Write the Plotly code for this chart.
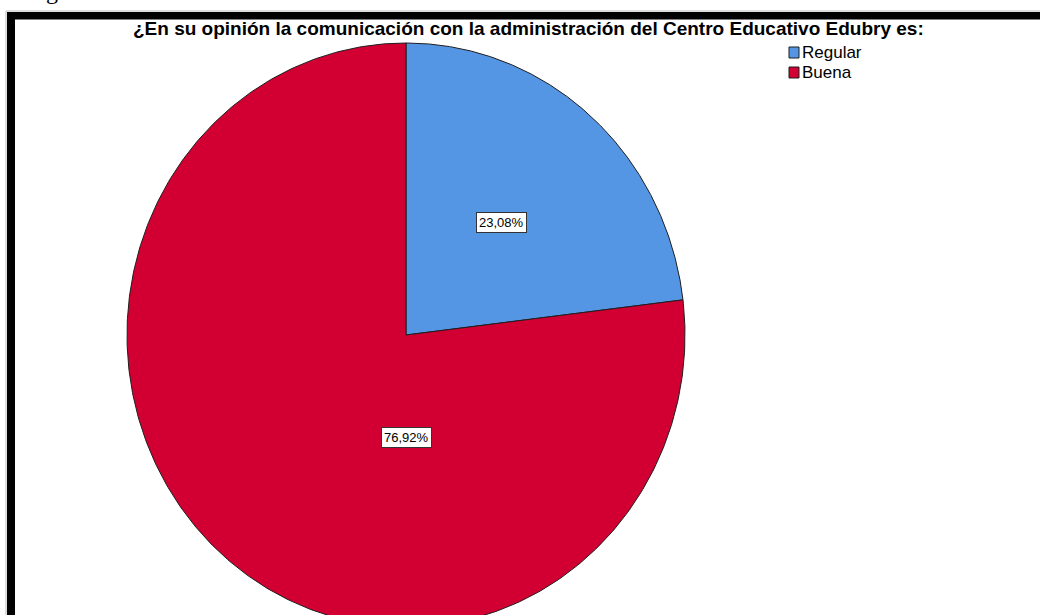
import numpy as np
import plotly.graph_objects as go

# Survey answers (percent of respondents)
categories = ["Regular", "Buena"]
percentages = [23.08, 76.92]
colors = ["#5596E4", "#D20032"]

title_text = "¿En su opinión la comunicación con la administración del Centro Educativo Edubry es:"

W, H = 1040, 615
# Pie geometry in page pixels (the chart is slightly stretched vertically)
CX, CY = 406, 335
RX, RY = 279, 292

# label placement per slice: (angle in degrees clockwise from 12 o'clock, fraction of radius)
label_pos = [(41.5, 0.515), (180.0, 0.35)]

fig = go.Figure()

total = sum(percentages)
start = 0.0
for cat, val, col in zip(categories, percentages, colors):
    sweep = 360.0 * val / total
    t = np.radians(np.linspace(start, start + sweep, 400))
    xs = np.concatenate([[CX], CX + RX * np.sin(t), [CX]])
    ys = np.concatenate([[CY], CY - RY * np.cos(t), [CY]])
    fig.add_trace(go.Scatter(
        x=xs, y=ys, mode="lines", fill="toself", fillcolor=col,
        line=dict(color="#1e1e1e", width=1), name=cat,
        showlegend=False, hoverinfo="skip",
    ))
    start += sweep

# slice percentage labels in boxed text
for val, (ang, frac) in zip(percentages, label_pos):
    a = np.radians(ang)
    fig.add_annotation(
        x=CX + frac * RX * np.sin(a), y=CY - frac * RY * np.cos(a),
        text=f"{val:.2f}%".replace(".", ","), showarrow=False,
        font=dict(family="Liberation Sans, Arial", size=13, color="#000"),
        bgcolor="white", bordercolor="#333", borderwidth=1, borderpad=2,
    )

# legend swatches and names
leg_x, leg_y, leg_step, sw_w, sw_h = 789, 47, 20, 10, 11
for i, (cat, col) in enumerate(zip(categories, colors)):
    y0 = leg_y + i * leg_step
    fig.add_shape(type="rect", x0=leg_x, x1=leg_x + sw_w, y0=y0, y1=y0 + sw_h,
                  fillcolor=col, line=dict(color="#1e1e1e", width=1))
    fig.add_annotation(x=leg_x + sw_w + 1, y=y0 + sw_h / 2, text=cat, showarrow=False,
                       xanchor="left", yanchor="middle",
                       font=dict(family="Liberation Sans, Arial", size=17, color="#000"))

# chart title
fig.add_annotation(x=528, y=28, text=f"<b>{title_text}</b>", showarrow=False,
                   xanchor="center", yanchor="middle",
                   font=dict(family="Liberation Sans, Arial", size=19, color="#000"))

# caption fragment above the frame
fig.add_annotation(x=24, y=6, text="Figura", showarrow=False, xanchor="left", yanchor="bottom",
                   font=dict(family="Liberation Serif, Times New Roman", size=24, color="#000"))

# heavy frame on the left and top
fig.add_shape(type="rect", x0=7, x1=15, y0=12, y1=H + 5, fillcolor="black", line_width=0)
fig.add_shape(type="rect", x0=7, x1=W + 5, y0=12, y1=19.5, fillcolor="black", line_width=0)
fig.add_shape(type="line", x0=6, x1=6, y0=11, y1=H + 5, line=dict(color="#bbbbbb", width=1))
fig.add_shape(type="line", x0=6, x1=W + 5, y0=11, y1=11, line=dict(color="#bbbbbb", width=1))

fig.update_xaxes(range=[0, W], visible=False, fixedrange=True)
fig.update_yaxes(range=[H, 0], visible=False, fixedrange=True)
fig.update_layout(
    width=W, height=H, margin=dict(l=0, r=0, t=0, b=0),
    paper_bgcolor="white", plot_bgcolor="white", showlegend=False,
)

fig.write_html("out.html")
